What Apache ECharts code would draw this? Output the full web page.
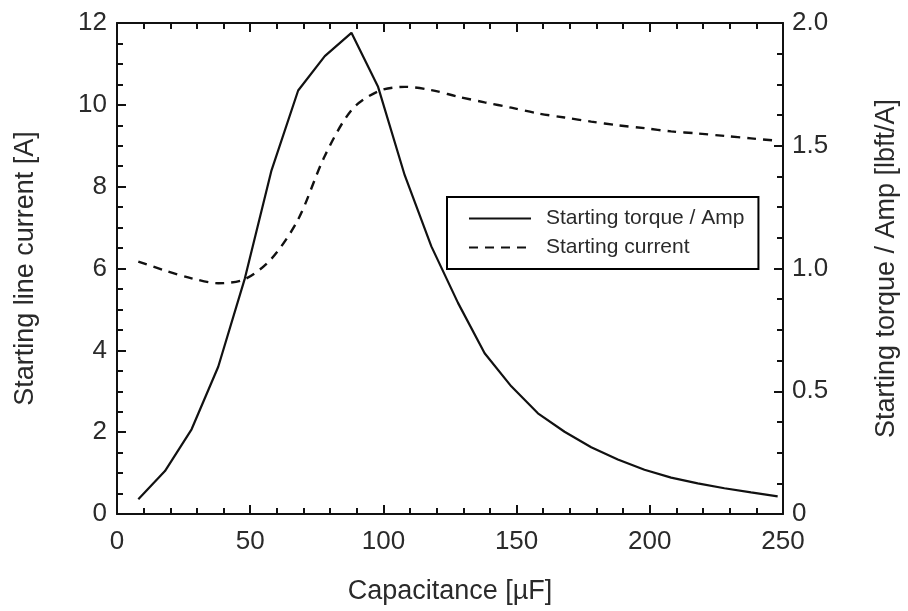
<!DOCTYPE html>
<html>
<head>
<meta charset="utf-8">
<script src="https://cdn.jsdelivr.net/npm/echarts@6/dist/echarts.min.js"></script>
<style>
  html, body { margin: 0; padding: 0; background: #fff; }
  #chart { width: 908px; height: 611px; }
</style>
</head>
<body>
<div id="chart"></div>
<script>
// Capacitance sweep [µF]
const capacitance = [8, 18, 28, 38, 48, 58, 68, 78, 88, 98, 108, 118, 128, 138, 148,
                     158, 168, 178, 188, 198, 208, 218, 228, 238, 248];
// Starting torque per amp [lbft/A] (right axis)
const torquePerAmp = [0.06, 0.175, 0.345, 0.60, 0.96, 1.40, 1.725, 1.865, 1.96, 1.74, 1.38,
                      1.09, 0.86, 0.655, 0.52, 0.41, 0.335, 0.272, 0.222, 0.18, 0.148,
                      0.125, 0.105, 0.088, 0.072];
// Starting line current [A] (left axis)
const startCurrent = [6.17, 5.95, 5.76, 5.64, 5.74, 6.24, 7.2, 8.75, 9.87, 10.33, 10.44,
                      10.36, 10.2, 10.06, 9.93, 9.79, 9.69, 9.59, 9.5, 9.43, 9.35, 9.3,
                      9.24, 9.18, 9.12];
// Right axis tick labels
const rightTickLabels = ['0', '0.5', '1.0', '1.5', '2.0'];

const FONT = 'Liberation Sans, Arial, sans-serif';
const INK = '#111';
const TEXT = '#2a2a2a';

const pairs = (xs, ys) => xs.map((x, i) => [x, ys[i]]);

const axisLine = { show: true, onZero: false, lineStyle: { color: INK, width: 2 } };
const tickIn = { show: true, inside: true, length: 9, lineStyle: { color: INK, width: 2 } };
const minorIn = (n) => ({ show: true, splitNumber: n, length: 6, lineStyle: { color: INK, width: 2 } });

const chart = echarts.init(document.getElementById('chart'), null, { renderer: 'canvas' });

chart.setOption({
  animation: false,
  backgroundColor: '#fff',
  grid: { left: 117, right: 120, top: 23, bottom: 97, containLabel: false },
  legend: {
    orient: 'vertical',
    left: 447,
    top: 197,
    padding: [11, 14, 11, 21],
    itemWidth: 62,
    itemHeight: 14,
    itemGap: 8,
    borderColor: '#000',
    borderWidth: 2,
    borderRadius: 0,
    itemStyle: { opacity: 0 },
    textStyle: { fontFamily: FONT, fontSize: 21, color: TEXT, lineHeight: 20, padding: [0, 0, 0, 10] },
    data: ['Starting torque / Amp', 'Starting current']
  },
  xAxis: [
    {
      type: 'value', min: 0, max: 250, interval: 50, position: 'bottom',
      name: 'Capacitance [µF]', nameLocation: 'middle', nameGap: 64,
      nameTextStyle: { fontFamily: FONT, fontSize: 27, color: TEXT, verticalAlign: 'top' },
      axisLine: axisLine, axisTick: tickIn, minorTick: minorIn(5),
      splitLine: { show: false }, minorSplitLine: { show: false },
      axisLabel: { fontFamily: FONT, fontSize: 26, color: TEXT, margin: 15 }
    },
    {
      type: 'value', min: 0, max: 250, interval: 50, position: 'top',
      axisLine: axisLine, axisTick: tickIn, minorTick: minorIn(5),
      splitLine: { show: false }, axisLabel: { show: false }
    }
  ],
  yAxis: [
    {
      type: 'value', min: 0, max: 12, interval: 2, position: 'left',
      name: 'Starting line current [A]', nameLocation: 'middle', nameGap: 78, nameRotate: 90,
      nameTextStyle: { fontFamily: FONT, fontSize: 27, color: TEXT },
      axisLine: axisLine, axisTick: tickIn, minorTick: minorIn(4),
      splitLine: { show: false },
      axisLabel: { fontFamily: FONT, fontSize: 26, color: TEXT, margin: 10 }
    },
    {
      type: 'value', min: 0, max: 2, interval: 0.5, position: 'right',
      name: 'Starting torque / Amp [lbft/A]', nameLocation: 'middle', nameGap: 90, nameRotate: 90,
      nameTextStyle: { fontFamily: FONT, fontSize: 27, color: TEXT },
      axisLine: axisLine, axisTick: tickIn, minorTick: minorIn(4),
      splitLine: { show: false },
      axisLabel: {
        fontFamily: FONT, fontSize: 26, color: TEXT, margin: 9,
        formatter: (v) => rightTickLabels[Math.round(v / 0.5)]
      }
    }
  ],
  series: [
    {
      name: 'Starting torque / Amp',
      type: 'line', xAxisIndex: 0, yAxisIndex: 1,
      data: pairs(capacitance, torquePerAmp),
      showSymbol: false, symbol: 'none',
      lineStyle: { color: INK, width: 2.2, type: 'solid' },
      itemStyle: { color: INK }
    },
    {
      name: 'Starting current',
      type: 'line', xAxisIndex: 0, yAxisIndex: 0,
      data: pairs(capacitance, startCurrent),
      smooth: 0.3,
      showSymbol: false, symbol: 'none',
      lineStyle: { color: INK, width: 2.4, type: [9, 7] },
      itemStyle: { color: INK }
    }
  ]
});
</script>
</body>
</html>
